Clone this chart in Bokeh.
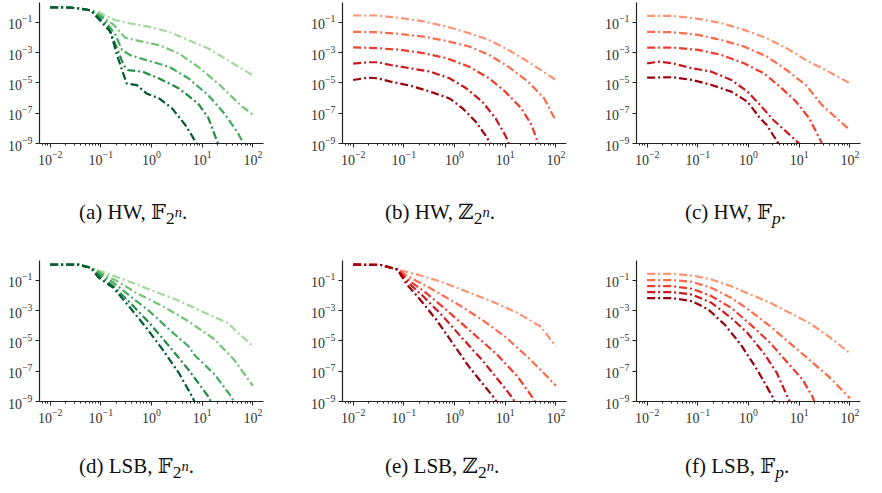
from bokeh.plotting import figure
from bokeh.models import FixedTicker, Div, Range1d
from bokeh.layouts import column, row
from bokeh.embed import file_html
from bokeh.resources import INLINE

# ---------------- data ----------------
greens = ["#a1d99b", "#74c476", "#41ab5d", "#238b45", "#005a32"]
reds = ["#fc9272", "#fb6a4a", "#ef3b2c", "#cb181d", "#99000d"]

x_major = [1e-2, 1e-1, 1, 10, 100]
y_major = [1e-9, 1e-7, 1e-5, 1e-3, 1e-1]
x_minor = [m * d for d in [1e-3, 1e-2, 1e-1, 1, 10, 100] for m in [2, 3, 4, 5, 6, 7, 8, 9]]

# (a) HW, F_{2^n}
a1_x = [0.01, 0.0158, 0.0251, 0.0398, 0.0631, 0.0871, 0.195, 0.380, 0.912, 2.24, 5.37, 13.2, 31.6, 100]
a1_y = [1.0, 1.0, 0.955, 0.832, 0.631, 0.513, 0.141, 0.0851, 0.0513, 0.024, 6.76e-3, 1.91e-3, 3.24e-4, 3.16e-5]
a2_x = [0.01, 0.0158, 0.0251, 0.0398, 0.0631, 0.1, 0.182, 0.302, 0.589, 1.41, 3.47, 8.32, 20.4, 57.5, 100]
a2_y = [1.0, 1.0, 0.955, 0.832, 0.631, 0.302, 0.0661, 9.77e-3, 5.89e-3, 3.16e-3, 8.91e-4, 1.17e-4, 9.33e-6, 3.39e-7, 7.94e-8]
a3_x = [0.01, 0.0158, 0.0251, 0.0398, 0.0631, 0.115, 0.195, 0.263, 0.380, 0.794, 2.24, 5.37, 13.2, 27.5, 49.0, 70.8]
a3_y = [1.0, 1.0, 0.955, 0.832, 0.631, 0.182, 0.0145, 1.48e-3, 6.92e-4, 3.24e-4, 1.17e-4, 2.0e-5, 1.55e-6, 9.55e-8, 5.89e-9, 6.31e-10]
a4_x = [0.01, 0.0158, 0.0251, 0.0398, 0.0631, 0.135, 0.209, 0.282, 0.347, 0.676, 1.41, 3.47, 8.32, 13.2, 20.4, 22.9]
a4_y = [1.0, 1.0, 0.955, 0.832, 0.631, 0.0661, 1.91e-3, 1.51e-4, 7.08e-5, 5.5e-5, 2.0e-5, 4.37e-6, 4.37e-7, 5.01e-8, 1e-9, 3.98e-10]
a5_x = [0.01, 0.0158, 0.0251, 0.0398, 0.0631, 0.155, 0.209, 0.263, 0.324, 0.513, 0.794, 1.41, 2.57, 4.68, 7.76, 8.51]
a5_y = [1.0, 1.0, 0.955, 0.832, 0.631, 0.024, 6.92e-4, 7.08e-5, 9.33e-6, 7.24e-6, 2.04e-6, 9.55e-7, 2.04e-7, 1.62e-8, 1e-9, 5.01e-10]

# (b) HW, Z_{2^n}
b1_x = [0.01, 0.0302, 0.0871, 0.245, 0.692, 1.95, 4.79, 11.5, 28.2, 100]
b1_y = [0.288, 0.288, 0.195, 0.117, 0.0537, 0.0195, 7.08e-3, 1.55e-3, 2.57e-4, 1.58e-5]
b2_x = [0.01, 0.0302, 0.0871, 0.245, 0.692, 1.95, 4.79, 11.5, 28.2, 58.9, 100]
b2_y = [0.024, 0.0229, 0.017, 0.0117, 6.03e-3, 2.57e-3, 7.24e-4, 1.20e-4, 1.23e-5, 9.55e-7, 3.02e-8]
b3_x = [0.01, 0.0302, 0.0871, 0.245, 0.692, 1.95, 4.79, 10, 20.9, 33.1, 44.7, 50]
b3_y = [2.29e-3, 2.0e-3, 1.55e-3, 9.33e-4, 4.37e-4, 1.20e-4, 2.04e-5, 2.69e-6, 2.09e-7, 1.66e-8, 1e-9, 3.98e-10]
b4_x = [0.01, 0.0195, 0.0302, 0.055, 0.135, 0.331, 0.794, 1.70, 3.55, 6.46, 10, 11.5, 12.6]
b4_y = [1.91e-4, 2.34e-4, 2.34e-4, 1.55e-4, 9.33e-5, 5.62e-5, 2.04e-5, 4.47e-6, 5.75e-7, 4.57e-8, 3.55e-9, 1.29e-9, 5.01e-10]
b5_x = [0.01, 0.0195, 0.0302, 0.055, 0.135, 0.331, 0.794, 1.45, 2.63, 4.07, 5.13, 5.6]
b5_y = [1.58e-5, 2.24e-5, 2.04e-5, 1.23e-5, 6.61e-6, 2.69e-6, 9.55e-7, 2.09e-7, 2.75e-8, 3.55e-9, 1e-9, 5.01e-10]

# (c) HW, F_p
c1_x = [0.01, 0.0316, 0.102, 0.288, 0.813, 2.29, 5.62, 13.5, 38.0, 100]
c1_y = [0.275, 0.275, 0.174, 0.0912, 0.0324, 9.12e-3, 2.0e-3, 3.31e-4, 5.62e-5, 9.55e-6]
c2_x = [0.01, 0.0316, 0.102, 0.288, 0.813, 2.29, 5.62, 13.5, 28.2, 100]
c2_y = [0.024, 0.0229, 0.0151, 7.08e-3, 2.57e-3, 5.62e-4, 7.24e-5, 7.41e-6, 3.47e-7, 7.59e-9]
c3_x = [0.01, 0.0316, 0.102, 0.288, 0.813, 2.0, 4.17, 8.71, 15.8, 28.2, 32]
c3_y = [2.19e-3, 2.19e-3, 1.55e-3, 7.24e-4, 2.0e-4, 4.37e-5, 5.75e-6, 5.75e-7, 4.57e-8, 1e-9, 5.01e-10]
c4_x = [0.01, 0.0174, 0.0316, 0.0776, 0.186, 0.457, 0.955, 1.70, 3.09, 5.62, 10, 11.5]
c4_y = [2.0e-4, 2.57e-4, 2.0e-4, 9.33e-5, 5.62e-5, 1.58e-5, 2.69e-6, 3.47e-7, 3.55e-8, 5.89e-9, 1e-9, 5.01e-10]
c5_x = [0.01, 0.0316, 0.0776, 0.186, 0.457, 0.955, 1.70, 2.29, 3.89, 4.5]
c5_y = [2.24e-5, 2.40e-5, 1.58e-5, 7.41e-6, 2.69e-6, 5.75e-7, 4.57e-8, 1.66e-8, 1e-9, 5.01e-10]

# (d) LSB, F_{2^n}
d1_x = [0.01, 0.0355, 0.0631, 0.135, 0.282, 0.912, 3.02, 9.77, 31.6, 100]
d1_y = [1.12, 1.12, 0.692, 0.288, 0.117, 0.0251, 5.5e-3, 9.33e-4, 1.55e-4, 4.47e-6]
d2_x = [0.01, 0.0355, 0.0631, 0.115, 0.209, 0.501, 1.66, 5.37, 17.8, 42.7, 100]
d2_y = [1.12, 1.12, 0.692, 0.251, 0.0912, 0.0151, 2.0e-3, 2.0e-4, 1.23e-5, 5.75e-7, 1.10e-8]
d3_x = [0.01, 0.0355, 0.0631, 0.107, 0.178, 0.380, 0.912, 2.24, 5.37, 7.24, 17.8, 37.2, 45]
d3_y = [1.12, 1.12, 0.692, 0.214, 0.0708, 9.12e-3, 9.33e-4, 5.62e-5, 4.47e-6, 1.07e-6, 5.89e-8, 2.14e-9, 6.31e-10]
d4_x = [0.01, 0.0355, 0.0631, 0.1, 0.178, 0.380, 0.912, 2.24, 5.37, 13.2, 16]
d4_y = [1.12, 1.12, 0.692, 0.174, 0.0417, 3.31e-3, 1.55e-4, 4.47e-6, 1.26e-7, 2.14e-9, 6.31e-10]
d5_x = [0.01, 0.0355, 0.0631, 0.0912, 0.178, 0.380, 0.794, 1.66, 3.47, 6.31, 7.5]
d5_y = [1.12, 1.12, 0.692, 0.151, 0.0324, 1.55e-3, 7.24e-5, 2.69e-6, 7.59e-8, 2.14e-9, 6.31e-10]

# (e) LSB, Z_{2^n}
e1_x = [0.01, 0.0355, 0.0741, 0.178, 0.501, 1.66, 5.37, 17.4, 49.0, 100]
e1_y = [1.12, 1.05, 0.537, 0.251, 0.0912, 0.0195, 4.27e-3, 7.24e-4, 9.33e-5, 4.47e-6]
e2_x = [0.01, 0.0355, 0.0741, 0.155, 0.324, 1.05, 3.47, 9.77, 26.9, 57.5, 100]
e2_y = [1.12, 1.05, 0.537, 0.117, 0.0324, 3.31e-3, 2.57e-4, 2.04e-5, 9.55e-7, 7.59e-8, 1.10e-8]
e3_x = [0.01, 0.0355, 0.0741, 0.132, 0.275, 0.676, 1.91, 5.37, 7.24, 17.4, 35.5, 42]
e3_y = [1.12, 1.05, 0.537, 0.0912, 0.0151, 1.20e-3, 5.62e-5, 2.69e-6, 1.07e-6, 4.57e-8, 1.66e-9, 6.31e-10]
e4_x = [0.01, 0.0355, 0.0741, 0.123, 0.240, 0.589, 1.41, 3.47, 7.24, 14.1, 17]
e4_y = [1.12, 1.05, 0.537, 0.0708, 9.12e-3, 4.37e-4, 1.58e-5, 5.75e-7, 2.75e-8, 1.66e-9, 5.01e-10]
e5_x = [0.01, 0.0355, 0.0741, 0.115, 0.209, 0.437, 0.912, 1.91, 3.98, 6.17, 7.2]
e5_y = [1.12, 1.05, 0.537, 0.0537, 5.5e-3, 2.57e-4, 7.41e-6, 2.09e-7, 9.77e-9, 1.66e-9, 6.31e-10]

# (f) LSB, F_p
f1_x = [0.01, 0.0316, 0.0776, 0.186, 0.457, 1.10, 2.69, 6.46, 15.8, 38.0, 100]
f1_y = [0.275, 0.275, 0.214, 0.117, 0.0417, 0.0117, 3.31e-3, 7.24e-4, 1.55e-4, 2.04e-5, 1.58e-6]
f2_x = [0.01, 0.0316, 0.0776, 0.186, 0.457, 1.10, 2.69, 6.46, 15.8, 38.0, 100]
f2_y = [0.105, 0.105, 0.0813, 0.0324, 7.08e-3, 9.33e-4, 9.33e-5, 7.41e-6, 5.75e-7, 4.57e-8, 1.66e-9]
f3_x = [0.01, 0.0316, 0.0776, 0.186, 0.457, 1.10, 2.69, 5.62, 11.7, 18.2, 21]
f3_y = [0.0417, 0.0417, 0.0282, 9.12e-3, 1.55e-3, 1.20e-4, 7.41e-6, 4.47e-7, 2.75e-8, 2.14e-9, 6.31e-10]
f4_x = [0.01, 0.0316, 0.0776, 0.186, 0.457, 0.955, 2.0, 3.63, 6.03, 7.0]
f4_y = [0.017, 0.017, 0.0117, 3.31e-3, 3.31e-4, 3.39e-5, 1.58e-6, 7.59e-8, 1.66e-9, 6.31e-10]
f5_x = [0.01, 0.0316, 0.0776, 0.162, 0.339, 0.708, 1.48, 3.09, 3.5]
f5_y = [6.76e-3, 6.76e-3, 4.27e-3, 1.20e-3, 1.20e-4, 5.75e-6, 1.26e-7, 1.66e-9, 6.31e-10]

captions = [
    "(a) HW, &#x1D53D;<sub>2<sup><i>n</i></sup></sub>.",
    "(b) HW, &#x2124;<sub>2<sup><i>n</i></sup></sub>.",
    "(c) HW, &#x1D53D;<sub><i>p</i></sub>.",
    "(d) LSB, &#x1D53D;<sub>2<sup><i>n</i></sup></sub>.",
    "(e) LSB, &#x2124;<sub>2<sup><i>n</i></sup></sub>.",
    "(f) LSB, &#x1D53D;<sub><i>p</i></sub>.",
]

# ---------------- drawing ----------------
SERIF = "Liberation Serif"
AX = "#222222"
FRAME_W = 224


def make_panel(xs, ys, colors, bl, br):
    p = figure(frame_width=FRAME_W, frame_height=141,
               x_axis_type="log", y_axis_type="log",
               x_range=Range1d(0.00617, 162), y_range=Range1d(1e-9, 2.09),
               output_backend="svg", toolbar_location=None,
               min_border_left=bl, min_border_right=br,
               min_border_top=2, min_border_bottom=25,
               background_fill_color="white", border_fill_color="white")
    p.outline_line_color = None
    p.grid.visible = False
    for x, y, c in zip(xs, ys, colors):
        p.line(x, y, line_color=c, line_width=2.2, line_dash="8 3 2 3")
    p.xaxis.ticker = FixedTicker(ticks=x_major, minor_ticks=x_minor)
    p.yaxis.ticker = FixedTicker(ticks=y_major, minor_ticks=[])
    for ax in p.axis:
        ax.axis_line_color = AX
        ax.axis_line_width = 1.2
        ax.major_tick_line_color = AX
        ax.minor_tick_line_color = AX
        ax.major_tick_out = 4
        ax.major_tick_in = 0
        ax.minor_tick_out = 2
        ax.minor_tick_in = 0
        ax.major_label_text_font = SERIF
        ax.major_label_text_font_size = "14px"
        ax.major_label_text_color = "#333333"
        ax.major_label_standoff = 3
    return p


def make_caption(html, width, height, pad_left, pad_top):
    return Div(text=(
        f'<div style="font-family:\'{SERIF}\',\'DejaVu Serif\',\'DejaVu Sans\',serif;'
        f'font-size:21px;color:#111;text-align:left;padding-top:{pad_top}px;'
        f'padding-left:{pad_left}px;line-height:22px;white-space:nowrap;">{html}</div>'),
        width=width, height=height, margin=0)


pa = make_panel([a1_x, a2_x, a3_x, a4_x, a5_x], [a1_y, a2_y, a3_y, a4_y, a5_y], greens, 39, 24)
pb = make_panel([b1_x, b2_x, b3_x, b4_x, b5_x], [b1_y, b2_y, b3_y, b4_y, b5_y], reds, 55, 16)
pc = make_panel([c1_x, c2_x, c3_x, c4_x, c5_x], [c1_y, c2_y, c3_y, c4_y, c5_y], reds, 54, 6)
pd = make_panel([d1_x, d2_x, d3_x, d4_x, d5_x], [d1_y, d2_y, d3_y, d4_y, d5_y], greens, 39, 24)
pe = make_panel([e1_x, e2_x, e3_x, e4_x, e5_x], [e1_y, e2_y, e3_y, e4_y, e5_y], reds, 55, 16)
pf = make_panel([f1_x, f2_x, f3_x, f4_x, f5_x], [f1_y, f2_y, f3_y, f4_y, f5_y], reds, 54, 6)

widths = [287, 295, 284]
pads = [79, 98, 103]
cap1 = [make_caption(captions[i], widths[i], 90, pads[i], 33) for i in range(3)]
cap2 = [make_caption(captions[3 + i], widths[i], 51, pads[i], 29) for i in range(3)]

layout = column(row(pa, pb, pc), row(*cap1), row(pd, pe, pf), row(*cap2))

open("out.html", "w").write(file_html(layout, INLINE))
